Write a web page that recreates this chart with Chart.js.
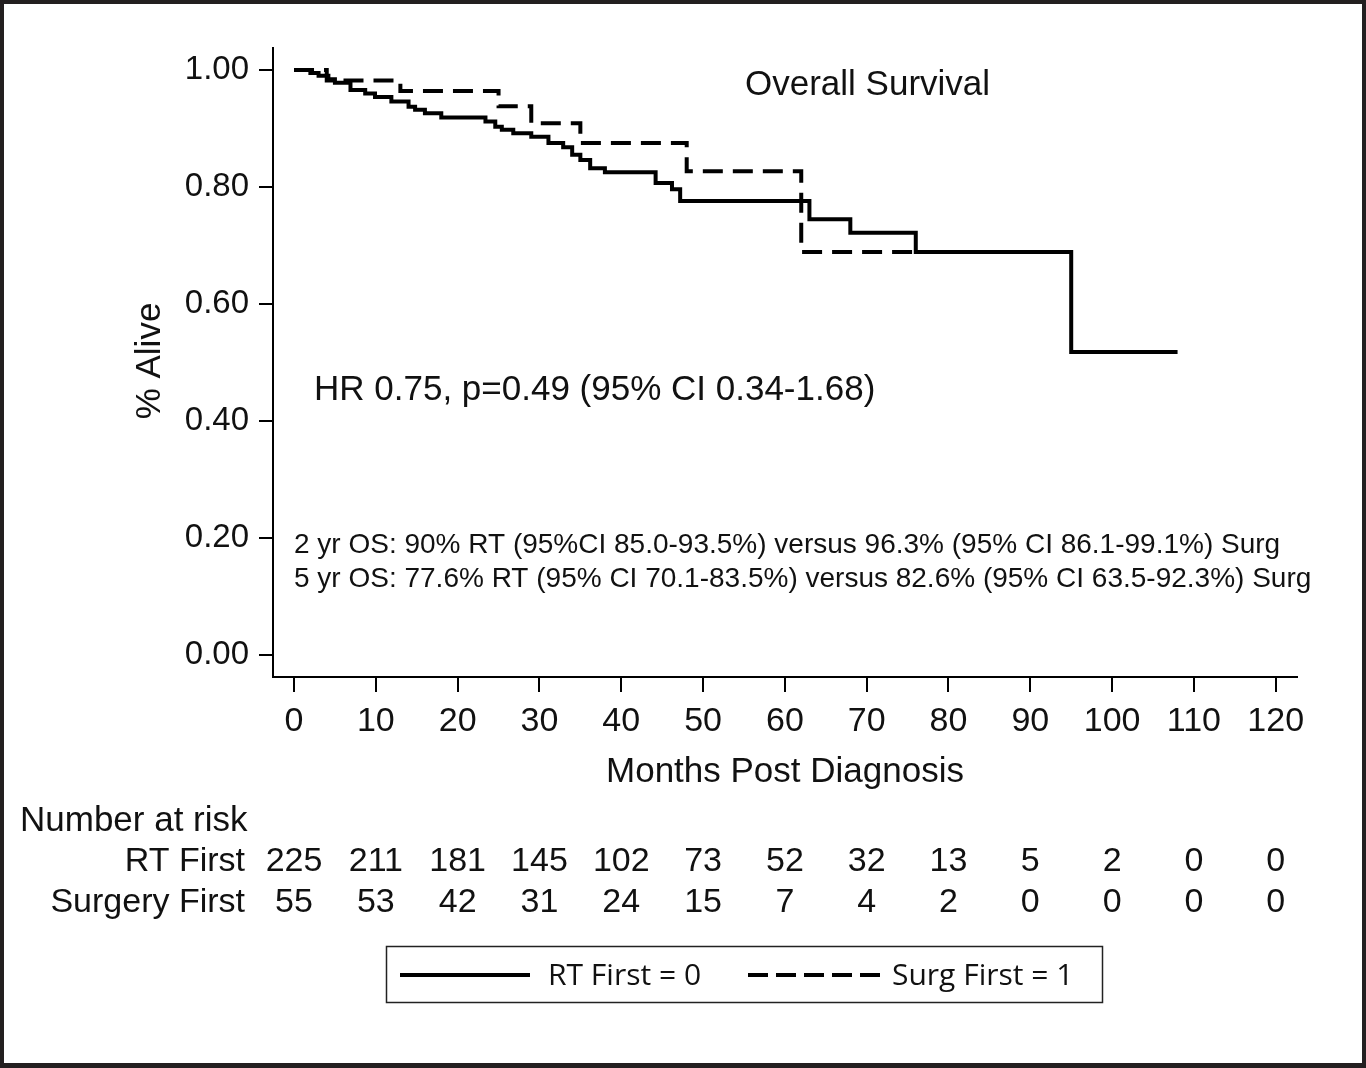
<!DOCTYPE html>
<html>
<head>
<meta charset="utf-8">
<title>Overall Survival</title>
<script src="https://cdn.jsdelivr.net/npm/chart.js@4.4.1/dist/chart.umd.min.js"></script>
<style>
  html, body { margin: 0; padding: 0; background: #fff; }
  canvas { display: block; }
</style>
</head>
<body>
<canvas id="kmChart" width="1366" height="1068"></canvas>
<script>
// Kaplan-Meier steps (month of event, survival after it)
const rtMonths = [0, 2, 3, 4.2, 5, 6.9, 8.7, 9.9, 11.9, 14, 14.8, 16, 18, 23.4, 24.6, 25.4, 26.8, 29, 31.1, 32.9, 34, 35, 36.2, 38, 44.2, 46.2, 47.2, 63, 68, 76, 95, 108];
const rtSurvival = [1.0, 0.995, 0.990, 0.984, 0.978, 0.966, 0.960, 0.954, 0.946, 0.937, 0.932, 0.926, 0.919, 0.912, 0.903, 0.898, 0.892, 0.886, 0.875, 0.868, 0.855, 0.846, 0.832, 0.825, 0.807, 0.796, 0.776, 0.745, 0.722, 0.689, 0.518, 0.518];

const surgMonths = [0, 4, 13, 25, 29, 35, 48, 62, 76];
const surgSurvival = [1.0, 0.982, 0.964, 0.938, 0.909, 0.875, 0.827, 0.689, 0.689];

const xTicks = [0, 10, 20, 30, 40, 50, 60, 70, 80, 90, 100, 110, 120];
const yTicks = [0, 0.2, 0.4, 0.6, 0.8, 1.0];

// number at risk under each x tick
const rtAtRisk = [225, 211, 181, 145, 102, 73, 52, 32, 13, 5, 2, 0, 0];
const surgAtRisk = [55, 53, 42, 31, 24, 15, 7, 4, 2, 0, 0, 0, 0];

const FONT = '"Liberation Sans", Arial, sans-serif';
const INK = "#111";

const toPoints = (xs, ys) => xs.map((x, i) => ({ x: x, y: ys[i] }));

const annotations = {
  id: "annotations",
  beforeDraw(chart) {
    const c = chart.ctx;
    c.save();
    c.fillStyle = "#fff";
    c.fillRect(0, 0, chart.width, chart.height);
    c.restore();
  },
  afterDraw(chart) {
    const c = chart.ctx;
    const xs = chart.scales.x;
    c.save();
    c.fillStyle = INK;
    c.textBaseline = "alphabetic";

    c.font = "35px " + FONT;
    c.textAlign = "left";
    c.fillText("Overall Survival", 745, 95);
    c.fillText("HR 0.75, p=0.49 (95% CI 0.34-1.68)", 314, 400);

    c.font = "28px " + FONT;
    c.fillText("2 yr OS: 90% RT (95%CI 85.0-93.5%) versus 96.3% (95% CI 86.1-99.1%) Surg", 294, 553);
    c.fillText("5 yr OS: 77.6% RT (95% CI 70.1-83.5%) versus 82.6% (95% CI 63.5-92.3%) Surg", 294, 587);

    // y axis title
    c.font = "35px " + FONT;
    c.save();
    c.translate(160, 361);
    c.rotate(-Math.PI / 2);
    c.textAlign = "center";
    c.fillText("% Alive", 0, 0);
    c.restore();

    // x axis title
    c.textAlign = "center";
    c.fillText("Months Post Diagnosis", (chart.chartArea.left + chart.chartArea.right) / 2, 782);

    // risk table
    c.textAlign = "left";
    c.fillText("Number at risk", 20, 831);
    c.font = "34px " + FONT;
    c.textAlign = "right";
    c.fillText("RT First", 245, 871);
    c.fillText("Surgery First", 245, 912);
    c.textAlign = "center";
    xTicks.forEach((t, i) => {
      const px = xs.getPixelForValue(t);
      c.fillText(String(rtAtRisk[i]), px, 871);
      c.fillText(String(surgAtRisk[i]), px, 912);
    });

    // legend
    c.strokeStyle = "#222";
    c.lineWidth = 1.5;
    c.strokeRect(386.5, 946.5, 716, 56);
    const ds = chart.data.datasets;
    c.lineWidth = 4;
    c.strokeStyle = ds[0].borderColor;
    c.setLineDash([]);
    c.beginPath(); c.moveTo(400, 975); c.lineTo(530, 975); c.stroke();
    c.strokeStyle = ds[1].borderColor;
    c.setLineDash([20, 8]);
    c.beginPath(); c.moveTo(748, 975); c.lineTo(880, 975); c.stroke();
    c.setLineDash([]);
    c.font = '30px "Open Sans", "Noto Sans", sans-serif';
    c.textAlign = "left";
    c.fillText(ds[0].label, 548, 985);
    c.fillText(ds[1].label, 892, 985);

    // frame
    c.fillStyle = "#231f20";
    c.fillRect(0, 0, chart.width, 4);
    c.fillRect(0, 0, 4, chart.height);
    c.fillRect(chart.width - 4, 0, 4, chart.height);
    c.fillRect(0, chart.height - 5, chart.width, 5);
    c.restore();
  }
};

new Chart(document.getElementById("kmChart"), {
  type: "line",
  data: {
    datasets: [
      {
        label: "RT First = 0",
        data: toPoints(rtMonths, rtSurvival),
        borderColor: "#000",
        borderWidth: 4,
        stepped: true,
        pointRadius: 0,
        fill: false
      },
      {
        label: "Surg First = 1",
        data: toPoints(surgMonths, surgSurvival),
        borderColor: "#000",
        borderWidth: 4,
        borderDash: [20, 10],
        stepped: true,
        pointRadius: 0,
        fill: false
      }
    ]
  },
  options: {
    responsive: false,
    animation: false,
    devicePixelRatio: 1,
    layout: { padding: { top: 48, right: 69, bottom: 331, left: 0 } },
    plugins: { legend: { display: false }, tooltip: { enabled: false } },
    scales: {
      x: {
        type: "linear",
        min: -2.57,
        max: 122.6,
        afterBuildTicks: s => { s.ticks = xTicks.map(v => ({ value: v })); },
        afterFit: s => { s.height = 60; },
        ticks: { color: INK, font: { family: FONT, size: 34 }, padding: 9, autoSkip: false, maxRotation: 0 },
        grid: { drawOnChartArea: false, drawTicks: true, tickLength: 15, color: "#000", lineWidth: 2 },
        border: { display: true, color: "#000", width: 2 }
      },
      y: {
        type: "linear",
        min: -0.0376,
        max: 1.0376,
        afterBuildTicks: s => { s.ticks = yTicks.map(v => ({ value: v })); },
        afterFit: s => { s.width = 273; },
        ticks: { color: INK, font: { family: FONT, size: 33 }, padding: 10, callback: v => v.toFixed(2) },
        grid: { drawOnChartArea: false, drawTicks: true, tickLength: 14, color: "#000", lineWidth: 2 },
        border: { display: true, color: "#000", width: 2 }
      }
    }
  },
  plugins: [annotations]
});
</script>
</body>
</html>
